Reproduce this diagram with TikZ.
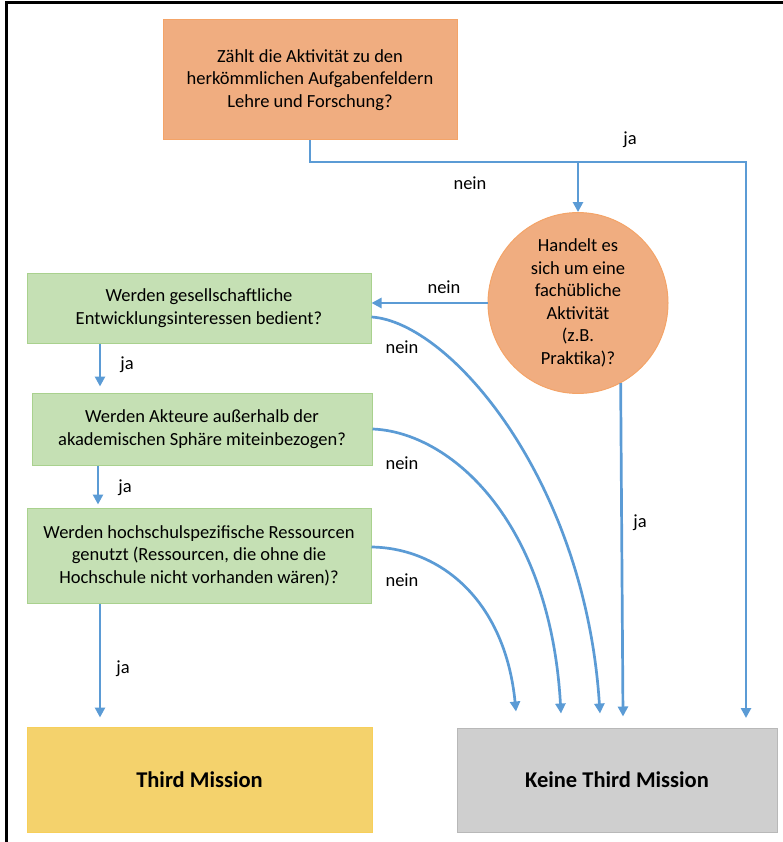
\documentclass[tikz,border=0pt]{standalone}
\usepackage{fontspec}
\setmainfont{Carlito}
\usetikzlibrary{arrows.meta,shapes.geometric}
\definecolor{orfill}{HTML}{F0AD80}
\definecolor{ordraw}{HTML}{F4A468}
\definecolor{grfill}{HTML}{C5E0B4}
\definecolor{grdraw}{HTML}{A9D18E}
\definecolor{gefill}{HTML}{F4D26C}
\definecolor{gedraw}{HTML}{F7CF5A}
\definecolor{gafill}{HTML}{CFCFCF}
\definecolor{gadraw}{HTML}{B8B8B8}
\definecolor{pfeil}{HTML}{5B9BD5}
\begin{document}
\begin{tikzpicture}[x=1pt,y=-1pt,
  box/.style={line width=1pt,align=center,inner sep=0pt,font=\fontsize{18.5}{22.5}\selectfont},
  fluss/.style={draw=pfeil,line width=2.7pt,-{Triangle[width=10pt,length=10pt]}},
  txt/.style={font=\fontsize{18.5}{22.5}\selectfont}]
\useasboundingbox (0,0) rectangle (783,842);
\draw[line width=3pt] (6,842) -- (6,3) -- (783,3);
\node[box,draw=ordraw,fill=orfill,minimum width=294pt,minimum height=120pt] (top) at (310,80) {Zählt die Aktivität zu den\\herkömmlichen Aufgabenfeldern\\Lehre und Forschung?};
\node[box,ellipse,draw=ordraw,fill=orfill,minimum width=180pt,minimum height=160pt] (kreis) at (578,303) {Handelt es\\sich um eine\\fachübliche\\Aktivität\\(z.B.\\Praktika)?};
\node[box,draw=grdraw,fill=grfill,minimum width=344pt,minimum height=70pt] (b1) at (199,308) {Werden gesellschaftliche\\Entwicklungsinteressen bedient?};
\node[box,draw=grdraw,fill=grfill,minimum width=340pt,minimum height=72pt] (b2) at (202,429) {Werden Akteure außerhalb der\\akademischen Sphäre miteinbezogen?};
\node[box,draw=grdraw,fill=grfill,minimum width=344pt,minimum height=95pt] (b3) at (199,555.5) {Werden hochschulspezifische Ressourcen\\genutzt (Ressourcen, die ohne die\\Hochschule nicht vorhanden wären)?};
\node[box,draw=gedraw,fill=gefill,minimum width=345pt,minimum height=105pt,font=\fontsize{22.5}{26}\selectfont\bfseries] (third) at (199.5,779.5) {Third Mission};
\node[box,draw=gadraw,fill=gafill,minimum width=320pt,minimum height=104pt,font=\fontsize{22.5}{26}\selectfont\bfseries] (kein) at (617,780) {Keine Third Mission};
\coordinate (ja1) at (746,162);
\coordinate (kz5) at (746,718);
\draw[fluss] (top.south) |- (ja1) -- (kz5);
\draw[fluss] (kreis.north |- ja1) -- (kreis.north);
\draw[fluss] (kreis.west) -- (kreis.west -| b1.east);
\draw[fluss] (kreis.-62) -- ([xshift=6pt,yshift=11pt]kein.north);
\draw[fluss] ([yshift=-9pt]b1.east) .. controls (450,322) and (585,480) .. ([xshift=-17pt,yshift=14pt]kein.north);
\draw[fluss] (b2.east) .. controls (450,432) and (550,520) .. ([xshift=-56pt,yshift=14pt]kein.north);
\draw[fluss] ([yshift=8.5pt]b3.east) .. controls (440,548) and (505,600) .. ([xshift=-101pt,yshift=16pt]kein.north);
\draw[fluss] ([xshift=-99pt]b1.south) -- ([xshift=-99pt,yshift=6pt]b2.north -| b1.south);
\draw[fluss] ([xshift=-104pt]b2.south) -- ([xshift=-104pt,yshift=3pt]b3.north -| b2.south);
\draw[fluss] ([xshift=-99pt]b3.south) -- ([xshift=-99pt,yshift=9pt]third.north -| b3.south);
\node[txt] (lja1) at (630,140) {ja};
\node[txt] (lnein1) at (470,183) {nein};
\node[txt] (lnein2) at (444,287) {nein};
\node[txt] (lnein3) at (402,347) {nein};
\node[txt] (lnein4) at (402,463) {nein};
\node[txt] (lnein5) at (402,580) {nein};
\node[txt] (lja2) at (127,365) {ja};
\node[txt] (lja3) at (125,488) {ja};
\node[txt] (lja4) at (123,669) {ja};
\node[txt] (lja5) at (640,523) {ja};
\end{tikzpicture}
\end{document}
